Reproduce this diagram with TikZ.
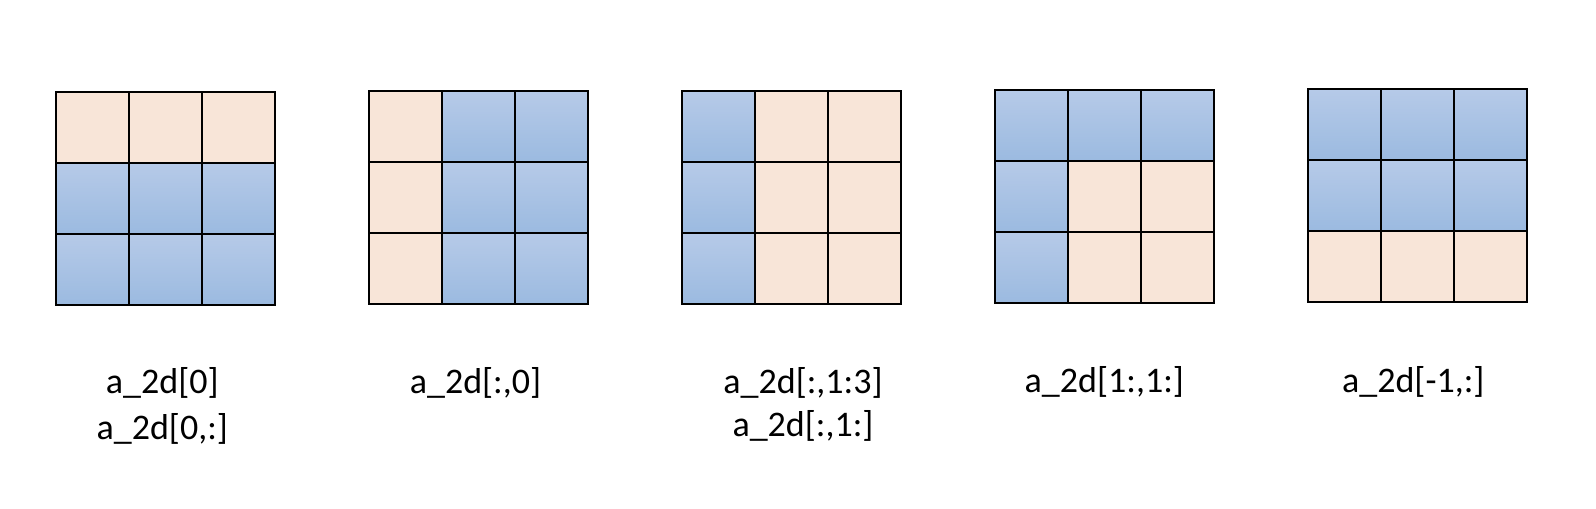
\documentclass[tikz,border=0pt]{standalone}
\usepackage{fontspec}
\setmainfont{Carlito}
\definecolor{peach}{HTML}{F8E5D8}
\definecolor{bluetop}{HTML}{B6CAE8}
\definecolor{bluebot}{HTML}{9BBAE0}
\tikzset{
  cellbox/.style={draw=black, line width=1.27pt, inner sep=0pt, outer sep=0pt,
    minimum width=54.75pt, minimum height=53.25pt, anchor=north west},
  pk/.style={fill=peach},
  bl/.style={top color=bluetop, bottom color=bluebot},
  lbl/.style={anchor=base, inner sep=0pt, font=\fontsize{27pt}{32pt}\selectfont}
}
\newcommand\mkgrid[4]{%
  \foreach \k [count=\i from 0] in {#4} {
    \pgfmathtruncatemacro\row{int(\i/3)}
    \pgfmathtruncatemacro\col{mod(\i,3)}
    \node[cellbox,\k] (#1-\row-\col) at ({#2+\col*73},{#3+\row*71}) {};
  }%
}
\begin{document}
\begin{tikzpicture}[x=0.75pt,y=-0.75pt]
\fill[white] (0,0) rectangle (1596,508);
\useasboundingbox (0,0) rectangle (1596,508);
\mkgrid{ga}{55.7}{92}{pk,pk,pk,bl,bl,bl,bl,bl,bl}
\mkgrid{gb}{369}{91.3}{pk,bl,bl,pk,bl,bl,pk,bl,bl}
\mkgrid{gc}{682}{91.3}{bl,pk,pk,bl,pk,pk,bl,pk,pk}
\mkgrid{gd}{994.7}{90}{bl,bl,bl,bl,pk,pk,bl,pk,pk}
\mkgrid{ge}{1308}{89}{bl,bl,bl,bl,bl,bl,pk,pk,pk}
\node[lbl] (la1) at (162.3,393.5) {a\_2d[0]};
\node[lbl] (la2) at (162.3,439) {a\_2d[0,:]};
\node[lbl] (lb) at (475.5,393.5) {a\_2d[:,0]};
\node[lbl] (lc1) at (803,393) {a\_2d[:,1:3]};
\node[lbl] (lc2) at (803,436.5) {a\_2d[:,1:]};
\node[lbl] (ld) at (1104.3,392.5) {a\_2d[1:,1:]};
\node[lbl] (le) at (1413.3,392.5) {a\_2d[-1,:]};
\end{tikzpicture}
\end{document}
